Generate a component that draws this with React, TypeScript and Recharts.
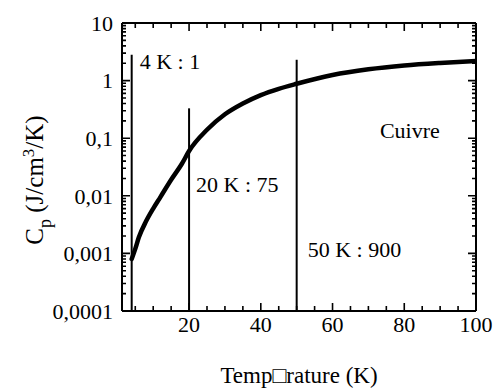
import React from "react";
import { ComposedChart, Line, XAxis, YAxis, ReferenceLine, ReferenceDot } from "recharts";

// Capacité calorifique volumique du cuivre
const temperature = [4, 5, 6, 8, 10, 12, 15, 18, 20, 25, 30, 35, 40, 45, 50, 60, 70, 80, 90, 100];
const heatCapacity = [
  0.0008, 0.0012, 0.0019, 0.0036, 0.006, 0.0095, 0.019, 0.036, 0.06, 0.14,
  0.26, 0.4, 0.56, 0.72, 0.88, 1.25, 1.57, 1.83, 2.03, 2.2,
];

// repères verticaux
const markerTemps = [4, 20, 50];
const markerTops = [2.8, 0.33, 2.3];
const markerLabels = ["4 K : 1", "20 K : 75", "50 K : 900"];
const markerLabelY = [1.62, 0.0118, 0.00085];

const materialLabel = "Cuivre";
const materialPos = { t: 73.2, cp: 0.1 };

const xMajorTicks = [20, 40, 60, 80, 100];
const xMinorTicks = [5, 10, 15, 25, 30, 35, 45, 50, 55, 65, 70, 75, 85, 90, 95];
const yMajorTicks = [0.0001, 0.001, 0.01, 0.1, 1, 10];
const yTickLabels = ["0,0001", "0,001", "0,01", "0,1", "1", "10"];
const yMantissas = [2, 3, 4, 5, 6, 7, 8, 9];

const yMinorTicks = yMajorTicks.slice(0, -1).flatMap((d) => yMantissas.map((m) => m * d));
const xTicks = [...xMinorTicks, ...xMajorTicks].sort((a, b) => a - b);
const yTicks = [...yMinorTicks, ...yMajorTicks].sort((a, b) => a - b);

const data = temperature.map((t, i) => ({ t, cp: heatCapacity[i] }));

const FONT = "'Liberation Serif', 'Times New Roman', serif";
const W = 498;
const H = 389;
const MARGIN = { top: 23, right: 22, bottom: 0, left: 0 };
const Y_AXIS_W = 122;
const X_AXIS_H = 78;
// plot area, used to mirror ticks on the top and right edges
const PLOT_W = W - Y_AXIS_W - MARGIN.right;
const PLOT_H = H - X_AXIS_H - MARGIN.top;
const X_DOMAIN: [number, number] = [1.3, 100];
const Y_DOMAIN: [number, number] = [0.0001, 10];
const labelDx = [8, 7, 11];
const TICK = { major: 8, minorX: 5, minorY: 4, width: 1.6 };

const majorIndex = (v: number) => yMajorTicks.findIndex((m) => Math.abs(m - v) / m < 1e-6);

const BottomTick = ({ x, y, payload }: any) => {
  const major = xMajorTicks.includes(payload.value);
  const len = major ? TICK.major : TICK.minorX;
  const top = y - PLOT_H;
  return (
    <g>
      <path d={`M${x},${y}v${-len}M${x},${top}v${len}`} stroke="#000" strokeWidth={TICK.width} fill="none" />
      {major && (
        <text x={x} y={y + 21} textAnchor="middle" fontSize={22} fontFamily={FONT} fill="#000">
          {payload.value}
        </text>
      )}
    </g>
  );
};

const LeftTick = ({ x, y, payload }: any) => {
  const idx = majorIndex(payload.value);
  const major = idx >= 0;
  const len = major ? TICK.major : TICK.minorY;
  const right = x + PLOT_W;
  return (
    <g>
      <path d={`M${x},${y}h${len}M${right},${y}h${-len}`} stroke="#000" strokeWidth={TICK.width} fill="none" />
      {major && (
        <text x={x - 9} y={y} dy="0.35em" textAnchor="end" fontSize={22} fontFamily={FONT} fill="#000">
          {yTickLabels[idx]}
        </text>
      )}
    </g>
  );
};

const YTitle = () => (
  <text transform="rotate(-90)" x={-180} y={43} textAnchor="middle" fontSize={25} fontFamily={FONT} fill="#000">
    C
    <tspan dy={8} fontSize={18}>p</tspan>
    <tspan dy={-8}>{"  (J/cm"}</tspan>
    <tspan dy={-9} fontSize={17}>3</tspan>
    <tspan dy={9}>/K)</tspan>
  </text>
);

const textLabel = (text: string, dx: number) => (props: any) => {
  const vb = props.viewBox;
  return (
    <text x={vb.x + dx} y={vb.y} fontSize={22} fontFamily={FONT} fill="#000">
      {text}
    </text>
  );
};

export default function App() {
  return (
    <div style={{ position: "absolute", left: 0, top: 0, width: W, height: H, background: "#fff" }}>
      <ComposedChart width={W} height={H} data={data} margin={MARGIN}>
        <XAxis
          dataKey="t"
          type="number"
          domain={X_DOMAIN}
          allowDataOverflow
          ticks={xTicks}
          interval={0}
          height={X_AXIS_H}
          tickSize={0}
          tickMargin={0}
          tickLine={false}
          tick={<BottomTick />}
          axisLine={{ stroke: "#000", strokeWidth: 2 }}
          label={{
            value: "Temp\u25A1rature (K)",
            position: "insideBottom",
            offset: 6,
            fontSize: 23,
            fontFamily: FONT,
            fill: "#000",
          }}
        />
        <YAxis
          type="number"
          scale="log"
          domain={Y_DOMAIN}
          allowDataOverflow
          ticks={yTicks}
          interval={0}
          width={Y_AXIS_W}
          tickSize={0}
          tickMargin={0}
          tickLine={false}
          tick={<LeftTick />}
          axisLine={{ stroke: "#000", strokeWidth: 2 }}
          label={{ content: () => <YTitle /> }}
        />
        {/* top and right edges of the frame */}
        <ReferenceLine y={Y_DOMAIN[1]} stroke="#000" strokeWidth={2} ifOverflow="visible" />
        <ReferenceLine x={X_DOMAIN[1]} stroke="#000" strokeWidth={2} ifOverflow="visible" />
        {markerTemps.map((t, i) => (
          <ReferenceLine
            key={`line-${t}`}
            segment={[
              { x: t, y: Y_DOMAIN[0] },
              { x: t, y: markerTops[i] },
            ]}
            stroke="#000"
            strokeWidth={2}
            ifOverflow="visible"
          />
        ))}
        {markerTemps.map((t, i) => (
          <ReferenceDot
            key={`lbl-${t}`}
            x={t}
            y={markerLabelY[i]}
            r={0}
            fill="none"
            stroke="none"
            label={{ content: textLabel(markerLabels[i], labelDx[i]) }}
          />
        ))}
        <ReferenceDot
          x={materialPos.t}
          y={materialPos.cp}
          r={0}
          fill="none"
          stroke="none"
          label={{ content: textLabel(materialLabel, 0) }}
        />
        <Line
          dataKey="cp"
          type="monotone"
          stroke="#000"
          strokeWidth={4.5}
          strokeLinecap="round"
          dot={false}
          isAnimationActive={false}
        />
      </ComposedChart>
    </div>
  );
}
